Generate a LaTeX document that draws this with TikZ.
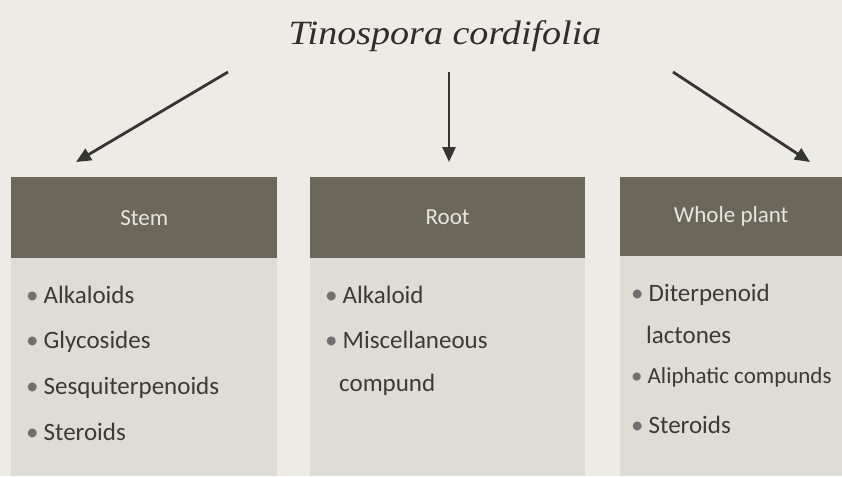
\documentclass[tikz,border=0pt]{standalone}
\usepackage{fontspec}
\usetikzlibrary{arrows.meta}
\newfontfamily\bodyfont{Carlito}
\newfontfamily\titlefont[FakeStretch=1.12]{Liberation Serif}
\definecolor{pagebg}{HTML}{ECEBE5}
\definecolor{hdrcol}{HTML}{6B675B}
\definecolor{hdrtext}{HTML}{E8E7DE}
\definecolor{bodycol}{HTML}{DDDCD5}
\definecolor{txtcol}{HTML}{3A3A38}
\definecolor{bulcol}{HTML}{707070}
\definecolor{arrcol}{HTML}{353533}
\tikzset{
  hdr/.style={fill=hdrcol, draw=none, text=hdrtext, inner sep=0pt, anchor=north west,
    font=\bodyfont\fontsize{23}{26}\selectfont},
  bodybox/.style={fill=bodycol, draw=none, inner sep=0pt, anchor=north west},
  item/.style={anchor=west, inner sep=0pt, text=txtcol, text height=17pt, text depth=5pt,
    font=\bodyfont\fontsize{25}{28}\selectfont},
  arr/.style={draw=arrcol, line width=2.8pt, -{Triangle[length=15pt,width=13pt]}}
}
\newcommand{\bul}{{\color{bulcol}\textbullet}\hspace{5pt}}
\begin{document}
\begin{tikzpicture}[x=1pt,y=-1pt]
\fill[pagebg] (0,0) rectangle (842,476);
\useasboundingbox (0,0) rectangle (842,476);
% title
\node[font=\titlefont\itshape\fontsize{34}{38}\selectfont, text=txtcol!80!black, inner sep=0pt] (title) at (445,36) {Tinospora cordifolia};
% boxes
\node[bodybox, minimum width=266pt, minimum height=218pt] (stemb) at (11,258) {};
\node[hdr, minimum width=266pt, minimum height=81pt] (stemh) at (11,177) {Stem};
\node[bodybox, minimum width=275pt, minimum height=218pt] (rootb) at (310,258) {};
\node[hdr, minimum width=275pt, minimum height=81pt] (rooth) at (310,177) {Root};
\node[bodybox, minimum width=222pt, minimum height=220pt] (wholeb) at (620,256) {};
\node[hdr, minimum width=222pt, minimum height=79pt] (wholeh) at (620,177) {Whole plant};
% arrows
\coordinate (s1) at (228,72); \coordinate (e1) at (76,162);
\coordinate (s2) at (449,72); \coordinate (e2) at (449,162);
\coordinate (s3) at (673,72); \coordinate (e3) at (810,162);
\draw[arr] (s1) -- (e1);
\draw[arr] (s2) -- (e2);
\draw[arr] (s3) -- (e3);
% stem items
\node[item] (st1) at (26,297) {\bul Alkaloids};
\node[item] (st2) at (26,342) {\bul Glycosides};
\node[item] (st3) at (26,388) {\bul Sesquiterpenoids};
\node[item] (st4) at (26,434) {\bul Steroids};
% root items
\node[item] (rt1) at (325,297) {\bul Alkaloid};
\node[item] (rt2) at (325,342) {\bul Miscellaneous};
\node[item] (rt3) at (339,385) {compund};
% whole plant items
\node[item] (wp1) at (631,295) {\bul Diterpenoid};
\node[item] (wp2) at (646,337) {lactones};
\node[item, font=\bodyfont\fontsize{23}{26}\selectfont] (wp3) at (631,377) {\bul Aliphatic compunds};
\node[item] (wp4) at (631,427) {\bul Steroids};
\end{tikzpicture}
\end{document}
